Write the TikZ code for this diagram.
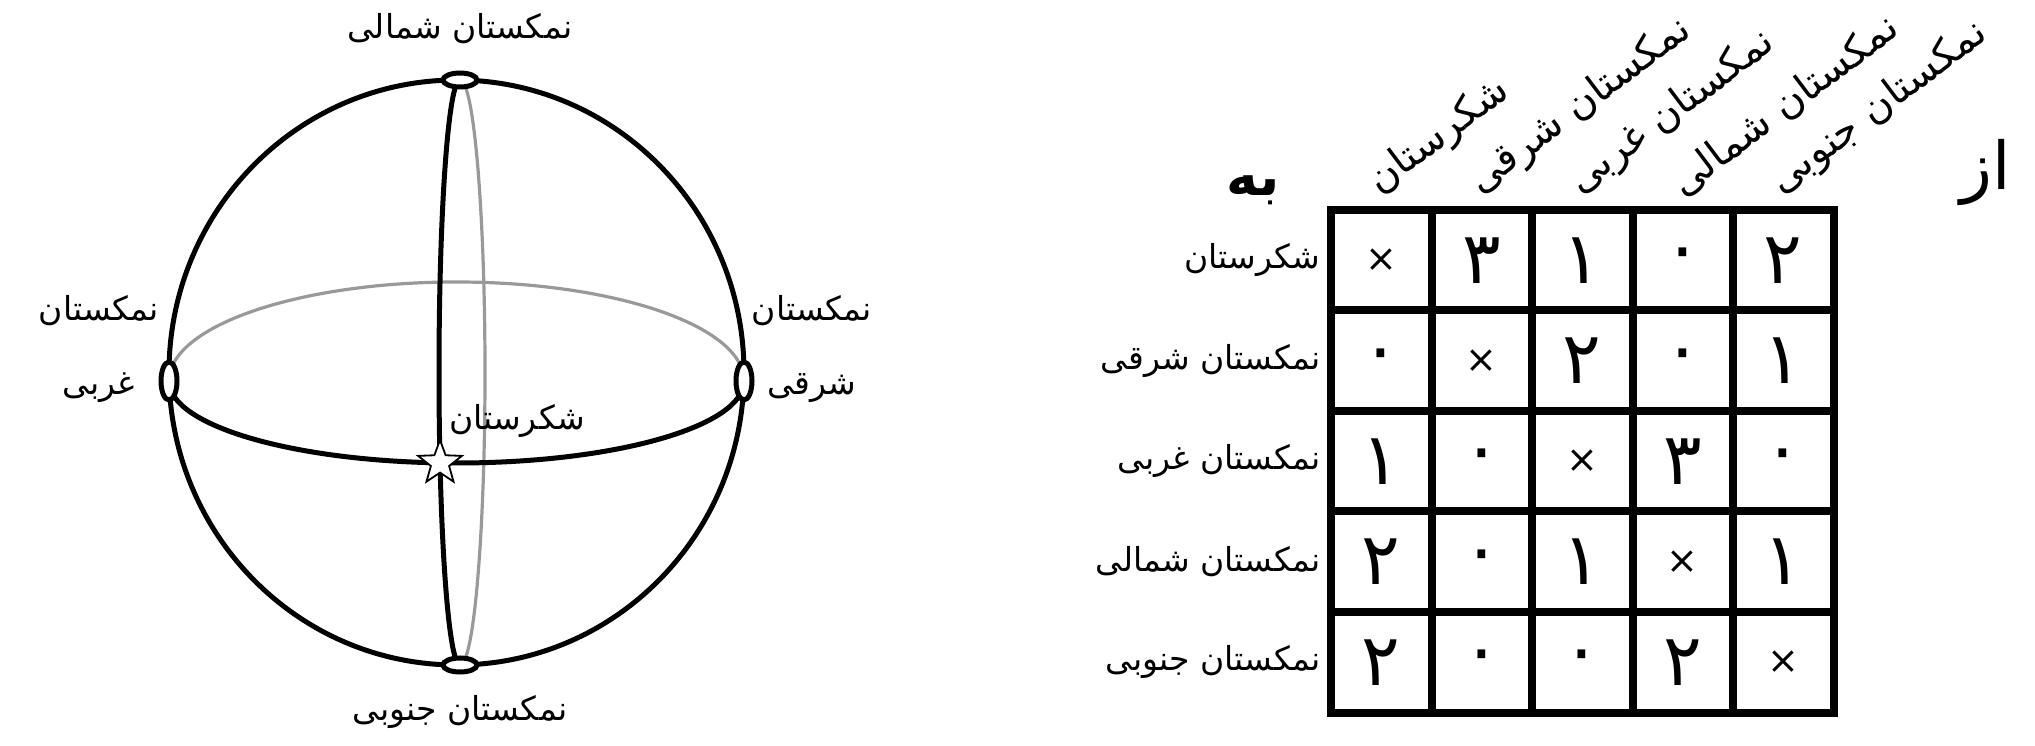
\documentclass[tikz,border=0pt]{standalone}
\usepackage{fontspec}
\usepackage{tikz}
\usetikzlibrary{shapes,positioning}
\newfontfamily\fa[Script=Arabic]{DejaVu Sans}
\TeXXeTstate=1
\newcommand{\nocell}{{\fontsize{19pt}{22pt}\selectfont ×}}
\tikzstyle{rim} = [line width=2.5pt,black]
\tikzstyle{front} = [line width=2.5pt,black]
\tikzstyle{back} = [line width=1.6pt,black!40]
\tikzstyle{poleh} = [ellipse,draw=black,fill=white,line width=2.5pt,minimum width=17pt,minimum height=7pt,inner sep=0pt]
\tikzstyle{polev} = [ellipse,draw=black,fill=white,line width=2.5pt,minimum width=8pt,minimum height=19pt,inner sep=0pt]
\tikzstyle{town} = [star,star points=5,star point ratio=2.4,draw=black,fill=white,line width=0.9pt,minimum size=23pt,inner sep=0pt]
\tikzstyle{lbl} = [font=\fa\fontsize{16.5pt}{20pt}\selectfont,inner sep=0pt]
\tikzstyle{lbltwo} = [font=\fa\fontsize{16.5pt}{37pt}\selectfont,inner sep=0pt,align=center]
\tikzstyle{hdr} = [font=\fa\fontsize{20pt}{24pt}\selectfont,inner sep=0pt,rotate=37,anchor=south west]
\tikzstyle{cell} = [font=\fa\fontsize{36pt}{40pt}\selectfont,inner sep=0pt]
\tikzstyle{tbl} = [line width=4pt,black]

\begin{document}
\begin{tikzpicture}[x=0.5pt,y=0.5pt,node distance=25.5pt]
\useasboundingbox (0,0) rectangle (2035,745);
% the sphere
\coordinate (N) at (460,665);
\coordinate (S) at (460,80);
\coordinate (W) at (169,364);
\coordinate (E) at (744,364);
\draw [back] (W) arc [start angle=180,end angle=0,x radius=287.5,y radius=99];
\draw [back] (N) arc [start angle=90,end angle=-90,x radius=25,y radius=292.5];
\draw [rim] (456.5,372.5) ellipse [x radius=287.5,y radius=292.5];
\draw [front] (W) arc [start angle=180,end angle=360,x radius=287.5,y radius=82];
\draw [front] (N) arc [start angle=90,end angle=270,x radius=21,y radius=292.5];
\node (north) [poleh] at (N) {};
\node (south) [poleh] at (S) {};
\node (west) [polev] at (W) {};
\node (east) [polev] at (E) {};
\node (city) [town] at (440,282) {};

\node (northlbl) [lbl,above of=north] {\beginR نمکستان شمالی\endR};
\node (southlbl) [lbl,below of=south,yshift=2pt] {\beginR نمکستان جنوبی\endR};
\node (westlbl) [lbltwo] at (99,396) {\beginR نمکستان\endR\\\beginR غربی\endR};
\node (eastlbl) [lbltwo] at (812,396) {\beginR نمکستان\endR\\\beginR شرقی\endR};
\node (citylbl) [lbl] at (517,324) {\beginR شکرستان\endR};

% the table
\draw [tbl,shift={(1331,32.5)}] (0,0) grid [step=100.5] (502.6,502.6);
\draw [tbl] (1331,32.5) rectangle (1833.5,535);
\foreach \vals [count=\r] in {{\nocell,۳,۱,۰,۲},{۰,\nocell,۲,۰,۱},{۱,۰,\nocell,۳,۰},{۲,۰,۱,\nocell,۱},{۲,۰,۰,۲,\nocell}}
  \foreach \v [count=\c] in \vals
    \node (c\r\c) [cell] at ({1331+(\c-0.5)*100.5},{535-(\r-0.5)*100.5}) {\v};

\node (row1) [lbl,anchor=east] at (1321,484.75) {\beginR شکرستان\endR};
\node (row2) [lbl,anchor=east] at (1321,384.25) {\beginR نمکستان شرقی\endR};
\node (row3) [lbl,anchor=east] at (1321,283.75) {\beginR نمکستان غربی\endR};
\node (row4) [lbl,anchor=east] at (1321,183.25) {\beginR نمکستان شمالی\endR};
\node (row5) [lbl,anchor=east] at (1321,82.75) {\beginR نمکستان جنوبی\endR};

\node (col1) [hdr] at (1385,542) {\beginR شکرستان\endR};
\node (col2) [hdr] at (1486,542) {\beginR نمکستان شرقی\endR};
\node (col3) [hdr] at (1586,542) {\beginR نمکستان غربی\endR};
\node (col4) [hdr] at (1687,542) {\beginR نمکستان شمالی\endR};
\node (col5) [hdr] at (1787,542) {\beginR نمکستان جنوبی\endR};

\node (to) [font=\fa\bfseries\fontsize{27pt}{30pt}\selectfont] at (1253,555) {\beginR به\endR};
\node (from) [font=\fa\fontsize{33pt}{36pt}\selectfont] at (1986,573) {\beginR از\endR};
\end{tikzpicture}
\end{document}
